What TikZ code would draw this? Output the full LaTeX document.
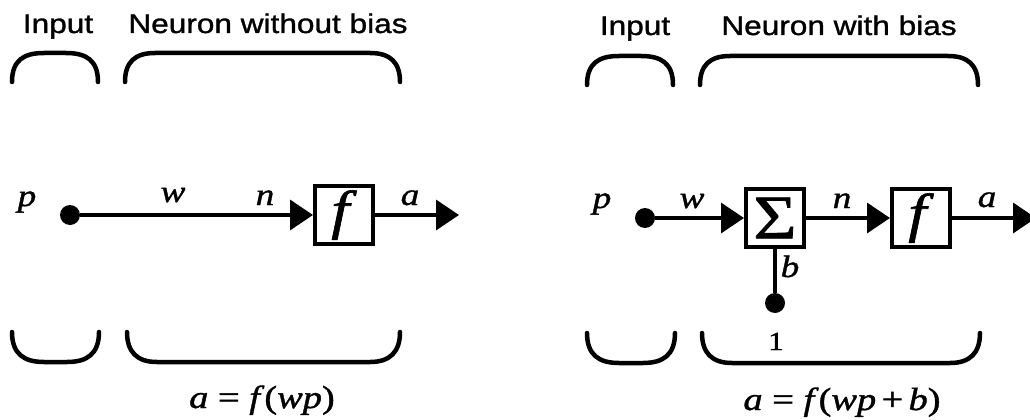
\documentclass[tikz,border=0pt]{standalone}
\usepackage{fontspec}
\usetikzlibrary{arrows.meta}
\newfontfamily\hdrfont[FakeStretch=1.17,FakeBold=1.2]{Liberation Sans}
\newfontfamily\serfont[FakeStretch=1.2,FakeBold=1.2]{Liberation Serif}
\begin{document}
\begin{tikzpicture}[x=1pt,y=-1pt,
  hdr/.style={font=\hdrfont\fontsize{27}{31}\selectfont,inner sep=0,anchor=base},
  lbl/.style={font=\serfont\itshape\fontsize{31}{34}\selectfont,inner sep=0,anchor=base},
  num/.style={font=\serfont\fontsize{26}{30}\selectfont,inner sep=0,anchor=base},
  eqn/.style={font=\serfont\fontsize{32}{36}\selectfont,inner sep=0,anchor=base},
  dotnode/.style={circle,fill=black,inner sep=0,minimum size=20},
  blk/.style={draw,line width=4,minimum size=58,inner sep=0},
  conn/.style={line width=3.5,-{Triangle[length=23pt,width=30pt]}},
  wire/.style={line width=3.5},
  brace/.style={line width=4.5,line cap=round}]
\useasboundingbox (0,0) rectangle (1030,420);
\clip (0,0) rectangle (1030,420);

% ---------- left: neuron without bias ----------
\node[hdr] (in1) at (58,33) {Input};
\node[hdr] (nb1) at (268,33) {Neuron without bias};
\draw[brace] (12,82) .. controls (12,60) and (24,53) .. (44,53) -- (66,53) .. controls (86,53) and (98,60) .. (98,82);
\draw[brace] (125,82) .. controls (125,62) and (135,53) .. (155,53) -- (370,53) .. controls (390,53) and (400,62) .. (400,82);
\draw[brace] (12,332) .. controls (12,354) and (24,362) .. (44,362) -- (67,362) .. controls (87,362) and (99,354) .. (99,332);
\draw[brace] (127,332) .. controls (127,352) and (137,362) .. (157,362) -- (370,362) .. controls (390,362) and (400,352) .. (400,332);

\node[lbl] (p1) at (27,206) {p};
\node[dotnode] (d1) at (70,215) {};
\node[blk] (f1) at (344,215) {\serfont\itshape\fontsize{54}{56}\selectfont f\/};
\node[lbl] (w1) at (173,202) {w};
\node[lbl] (n1) at (265,205) {n};
\node[lbl] (a1) at (410,205) {a};
\coordinate (o1) at (459,215);
\draw[conn] (d1) -- (f1);
\draw[conn] (f1) -- (o1);
\node[eqn] (e1) at (262,408) {\itshape a\/\upshape{} = \itshape f\/\upshape(\itshape wp\/\upshape)};

% ---------- right: neuron with bias ----------
\node[hdr] (in2) at (635,35) {Input};
\node[hdr] (nb2) at (839,35) {Neuron with bias};
\draw[brace] (587,85) .. controls (587,63) and (599,56) .. (619,56) -- (641,56) .. controls (661,56) and (673,63) .. (673,85);
\draw[brace] (700,85) .. controls (700,65) and (710,56) .. (730,56) -- (948,56) .. controls (968,56) and (978,65) .. (978,85);
\draw[brace] (587,333) .. controls (587,355) and (599,363) .. (619,363) -- (643,363) .. controls (663,363) and (675,355) .. (675,333);
\draw[brace] (702,333) .. controls (702,353) and (712,363) .. (732,363) -- (950,363) .. controls (970,363) and (980,353) .. (980,333);

\node[lbl] (p2) at (602,208) {p};
\node[dotnode] (d2) at (645,218) {};
\node[blk] (s2) at (775,218) {\serfont\fontsize{62}{64}\selectfont Σ};
\node[blk] (f2) at (921,218) {\serfont\itshape\fontsize{54}{56}\selectfont f\/};
\node[lbl] (w2) at (692,208) {w};
\node[lbl] (n2) at (842,208) {n};
\node[lbl] (a2) at (987,207) {a};
\coordinate (o2) at (1036,218);
\draw[conn] (d2) -- (s2);
\draw[conn] (s2) -- (f2);
\draw[conn] (f2) -- (o2);
\node[dotnode] (bd) at (775,303) {};
\draw[wire] (s2) -- (bd);
\node[lbl] (b2) at (790,277) {b};
\node[num] (one) at (776,350) {1};
\node[eqn] (e2) at (842,410) {\itshape a\/\upshape{} = \itshape f\/\upshape(\itshape wp\/\upshape{}\,+\,\itshape b\/\upshape)};
\end{tikzpicture}
\end{document}
